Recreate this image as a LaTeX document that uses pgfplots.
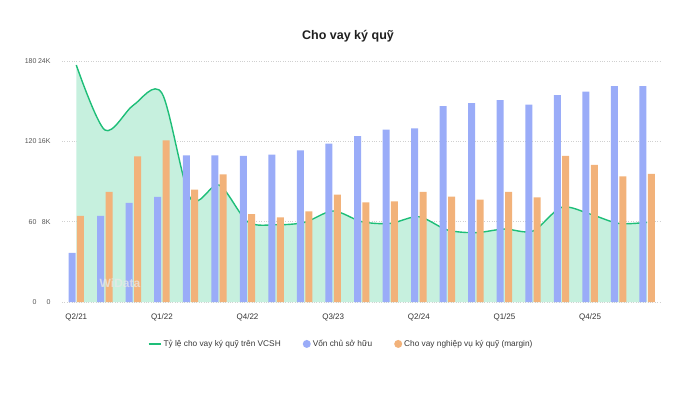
\documentclass[border=0pt]{standalone}
\usepackage{pgfplots}
\pgfplotsset{compat=1.18}
\usepackage{fontspec}
\setmainfont{Liberation Sans}
\definecolor{barblue}{HTML}{9AACF8}
\definecolor{barorange}{HTML}{F2B27A}
\definecolor{linegreen}{HTML}{1EBE78}
\definecolor{mint}{HTML}{C6F0DE}
\definecolor{ticktext}{HTML}{555555}
\definecolor{gridc}{HTML}{D0D0D0}
\begin{document}
\begin{tikzpicture}
\useasboundingbox (0,0) rectangle (690pt,394pt);
\node[font=\bfseries\fontsize{12.5}{14}\selectfont, text=black!88] at (348pt,358pt) {Cho vay ký quỹ};
% line axis (ratio)
\begin{axis}[
  at={(62pt,92pt)}, anchor=south west,
  width=598pt, height=241pt, scale only axis,
  xmin=-0.5, xmax=20.45, ymin=0, ymax=180,
  axis line style={draw=none},
  ytick={0,60,120,180}, xtick=\empty,
  major tick length=0pt,
  ymajorgrids, grid style={gridc, dotted, line width=0.8pt},
  /pgf/number format/assume math mode=true,
  yticklabel style={font=\fontsize{7}{8}\selectfont, text=ticktext, anchor=east, xshift=-22pt},
]
\addplot[draw=none, fill=mint, smooth, tension=0.5] coordinates {
(0,177) (1,128.5) (2,147) (3,156) (4,77.4) (5,87.4) (6,60) (7,57.7) (8,59.5) (9,68) (10,60)
(11,58.7) (12,63.7) (13,53.8) (14,51.8) (15,54.5) (16,53) (17,70.7) (18,65.7) (19,58.7) (20,59.5)
} \closedcycle;
\addplot[draw=linegreen, line width=1.4pt, smooth, tension=0.5] coordinates {
(0,177) (1,128.5) (2,147) (3,156) (4,77.4) (5,87.4) (6,60) (7,57.7) (8,59.5) (9,68) (10,60)
(11,58.7) (12,63.7) (13,53.8) (14,51.8) (15,54.5) (16,53) (17,70.7) (18,65.7) (19,58.7) (20,59.5)
};
\end{axis}
% bar axis
\begin{axis}[
  at={(62pt,92pt)}, anchor=south west,
  width=598pt, height=241pt, scale only axis,
  xmin=-0.5, xmax=20.45, ymin=0, ymax=24000,
  axis line style={draw=none},
  scaled y ticks=false,
  ytick={0,8000,16000,24000}, yticklabels={0,8K,16K,24K},
  xtick={0,3,6,9,12,15,18},
  xticklabels={Q2/21,Q1/22,Q4/22,Q3/23,Q2/24,Q1/25,Q4/25},
  major tick length=0pt,
  /pgf/number format/assume math mode=true,
  yticklabel style={font=\fontsize{7}{8}\selectfont, text=ticktext, anchor=east, xshift=-8pt},
  xticklabel style={font=\fontsize{8}{9}\selectfont, text=black!80, yshift=-8pt},
  legend columns=3,
  legend style={at={(0.4666,-0.174)}, anchor=center, draw=none, fill=none,
    font=\fontsize{8.3}{10}\selectfont, text=black!78,
    /tikz/every even column/.append style={column sep=20pt}},
]
\addlegendimage{legend image code/.code={\draw[linegreen, line width=2pt] (0pt,0pt) -- (12pt,0pt);}}
\addlegendentry{Tỷ lệ cho vay ký quỹ trên VCSH}
\addplot[ybar, bar width=7pt, bar shift=-4.2pt, fill=barblue, draw=none,
  legend image code/.code={\fill[barblue] (5pt,0pt) circle (4pt);}] coordinates {
(0,4900) (1,8570) (2,9860) (3,10460) (4,14600) (5,14600) (6,14550) (7,14670) (8,15100) (9,15770) (10,16530)
(11,17160) (12,17300) (13,19500) (14,19800) (15,20100) (16,19650) (17,20600) (18,20950) (19,21500) (20,21500)
};
\addlegendentry{Vốn chủ sở hữu}
\addplot[ybar, bar width=7pt, bar shift=4.2pt, fill=barorange, draw=none,
  legend image code/.code={\fill[barorange] (5pt,0pt) circle (4pt);}] coordinates {
(0,8570) (1,10960) (2,14500) (3,16100) (4,11200) (5,12700) (6,8760) (7,8430) (8,9030) (9,10690) (10,9930)
(11,10030) (12,10960) (13,10490) (14,10200) (15,10960) (16,10430) (17,14540) (18,13650) (19,12500) (20,12750)
};
\addlegendentry{Cho vay nghiệp vụ ký quỹ (margin)}
\end{axis}
\node[text=white!82!gray, opacity=0.75, font=\bfseries\fontsize{12}{14}\selectfont] at (120pt,111pt) {WiData};
\end{tikzpicture}
\end{document}
